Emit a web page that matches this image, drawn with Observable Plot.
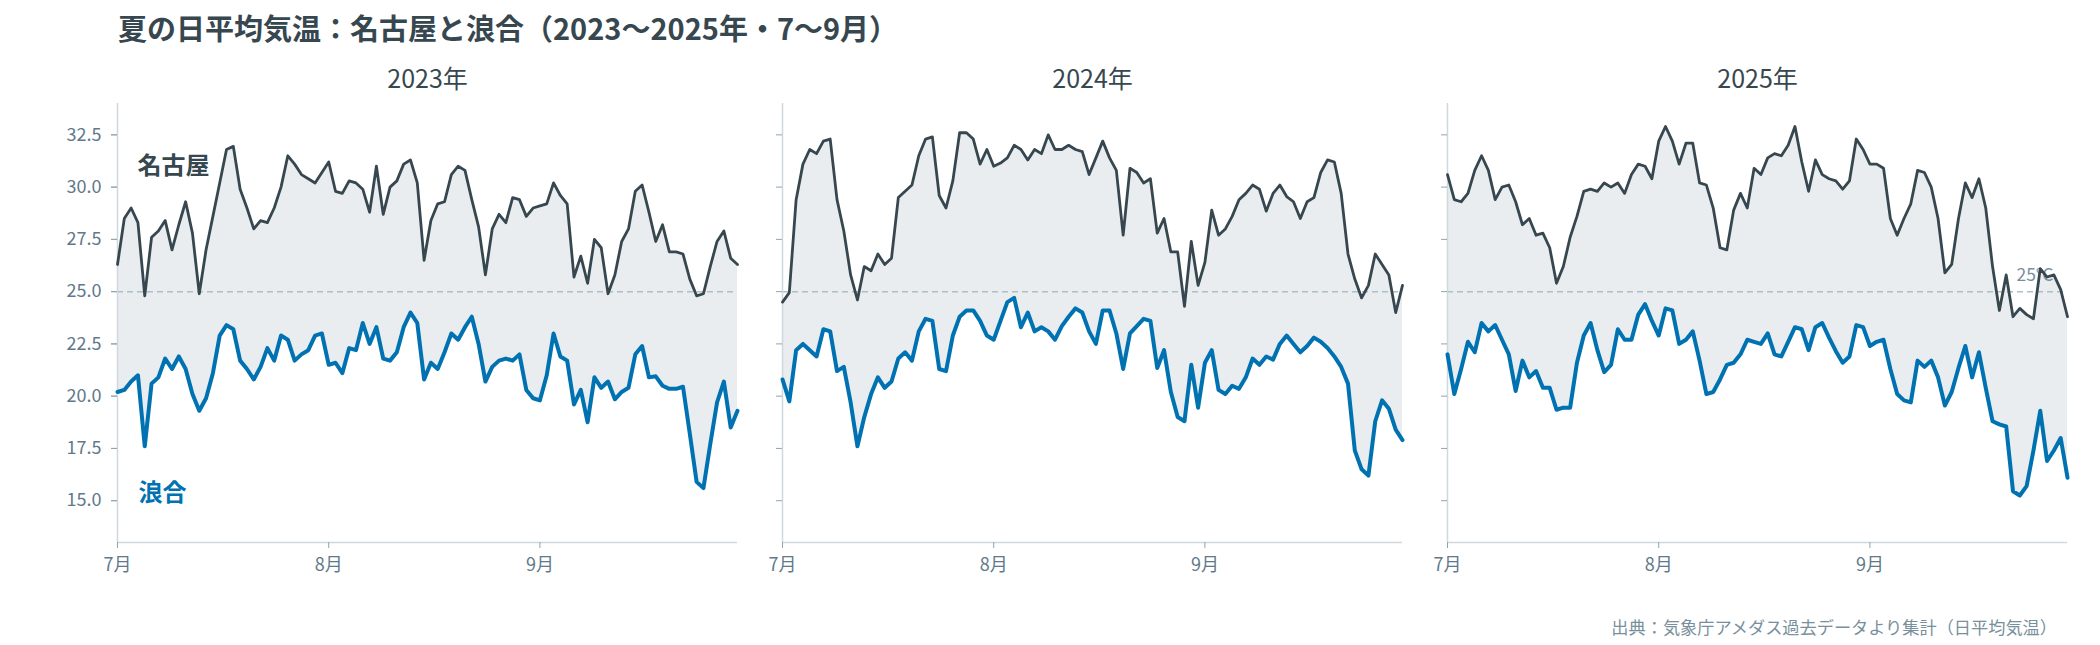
<!DOCTYPE html>
<html>
<head>
<meta charset="utf-8">
<script src="https://cdn.jsdelivr.net/npm/d3@7"></script>
<script src="https://cdn.jsdelivr.net/npm/@observablehq/plot@0.6"></script>
<style>
  body { margin: 0; background: #fff; width: 2100px; height: 645px; position: relative; overflow: hidden; font-family: "Noto Sans CJK JP", "Noto Sans", sans-serif; }
  #title { position: absolute; left: 118px; top: 7px; font-size: 29px; line-height: 40px; font-weight: 700; color: #37474f; white-space: nowrap; }
  #chart { position: absolute; left: 0; top: 50px; }
  #caption { position: absolute; right: 43px; top: 615px; font-size: 17.2px; line-height: 24px; color: #78909c; white-space: nowrap; }
</style>
</head>
<body>
<div id="title">夏の日平均気温：名古屋と浪合（2023〜2025年・7〜9月）</div>
<div id="chart"></div>
<div id="caption">出典：気象庁アメダス過去データより集計（日平均気温）</div>
<script>
const years = [2023, 2024, 2025];
const seriesNames = ["名古屋", "浪合"];
const yTicks = [15, 17.5, 20, 22.5, 25, 27.5, 30, 32.5];
const monthTicks = [7, 8, 9];
const thresholdLabel = "25°C";

const nagoya2023 = [
  26.3, 28.5, 29.0, 28.3, 24.8, 27.6, 27.9, 28.4, 27.0, 28.2,
  29.3, 27.8, 24.9, 27.0, 28.6, 30.2, 31.8, 31.95, 29.9, 29.0,
  28.0, 28.4, 28.3, 29.0, 30.0, 31.5, 31.1, 30.6, 30.4, 30.2,
  30.7, 31.2, 29.8, 29.7, 30.3, 30.2, 29.9, 28.8, 31.0, 28.7,
  30.0, 30.3, 31.1, 31.3, 30.2, 26.5, 28.4, 29.2, 29.3, 30.6,
  31.0, 30.8, 29.4, 28.1, 25.8, 28.0, 28.7, 28.3, 29.5, 29.4,
  28.6, 29.0, 29.1, 29.2, 30.2, 29.6, 29.2, 25.7, 26.7, 25.4,
  27.5, 27.1, 24.9, 25.8, 27.4, 28.0, 29.8, 30.1, 28.8, 27.4,
  28.2, 26.9, 26.9, 26.8, 25.6, 24.8, 24.9, 26.2, 27.4, 27.9,
  26.6, 26.3
];
const namiai2023 = [
  20.2, 20.3, 20.7, 21.0, 17.6, 20.6, 20.9, 21.8, 21.3, 21.9,
  21.3, 20.1, 19.3, 19.9, 21.1, 22.9, 23.4, 23.2, 21.7, 21.3,
  20.8, 21.4, 22.3, 21.7, 22.9, 22.7, 21.7, 22.0, 22.2, 22.9,
  23.0, 21.5, 21.6, 21.1, 22.3, 22.2, 23.5, 22.5, 23.3, 21.8,
  21.7, 22.1, 23.3, 24.0, 23.5, 20.8, 21.6, 21.3, 22.1, 23.0,
  22.7, 23.3, 23.8, 22.5, 20.7, 21.4, 21.7, 21.8, 21.7, 22.0,
  20.3, 19.9, 19.8, 21.0, 23.0, 21.9, 21.7, 19.6, 20.3, 18.75,
  20.9, 20.4, 20.7, 19.85, 20.2, 20.4, 22.0, 22.4, 20.9, 20.95,
  20.5, 20.35, 20.35, 20.45, 18.2, 15.9, 15.6, 17.7, 19.7, 20.7,
  18.5, 19.3
];
const nagoya2024 = [
  24.5, 24.95, 29.4, 31.1, 31.8, 31.6, 32.2, 32.3, 29.4, 27.9,
  25.8, 24.6, 26.2, 26.0, 26.8, 26.3, 26.6, 29.5, 29.8, 30.1,
  31.5, 32.3, 32.4, 29.6, 29.0, 30.3, 32.6, 32.6, 32.3, 31.1,
  31.8, 31.0, 31.15, 31.4, 32.0, 31.8, 31.3, 31.8, 31.6, 32.5,
  31.8, 31.8, 32.0, 31.8, 31.7, 30.6, 31.4, 32.2, 31.4, 30.8,
  27.7, 30.9, 30.7, 30.2, 30.4, 27.8, 28.5, 26.9, 26.9, 24.3,
  27.4, 25.3, 26.4, 28.9, 27.7, 28.0, 28.6, 29.4, 29.7, 30.1,
  29.9, 28.85, 29.7, 30.1, 29.55, 29.3, 28.5, 29.3, 29.5, 30.7,
  31.3, 31.2, 29.7, 26.8, 25.6, 24.7, 25.3, 26.8, 26.3, 25.8,
  24.0, 25.3
];
const namiai2024 = [
  20.8, 19.75, 22.2, 22.5, 22.2, 21.9, 23.2, 23.1, 21.2, 21.4,
  19.7, 17.6, 19.0, 20.1, 20.9, 20.4, 20.7, 21.8, 22.1, 21.7,
  23.1, 23.7, 23.6, 21.3, 21.2, 22.9, 23.8, 24.1, 24.1, 23.6,
  22.9, 22.7, 23.6, 24.5, 24.7, 23.3, 24.0, 23.1, 23.3, 23.1,
  22.7, 23.35, 23.8, 24.2, 24.0, 23.1, 22.5, 24.1, 24.1, 23.0,
  21.3, 23.0, 23.35, 23.7, 23.6, 21.35, 22.2, 20.2, 19.0, 18.8,
  21.5, 19.45, 21.6, 22.2, 20.3, 20.1, 20.5, 20.35, 20.9, 21.8,
  21.5, 21.9, 21.75, 22.5, 22.9, 22.5, 22.1, 22.4, 22.8, 22.6,
  22.3, 21.9, 21.4, 20.6, 17.4, 16.5, 16.2, 18.8, 19.8, 19.4,
  18.4, 17.9
];
const nagoya2025 = [
  30.6, 29.4, 29.3, 29.7, 30.8, 31.5, 30.8, 29.4, 30.0, 30.1,
  29.3, 28.2, 28.5, 27.7, 27.8, 27.1, 25.4, 26.2, 27.6, 28.6,
  29.8, 29.9, 29.8, 30.2, 30.0, 30.2, 29.7, 30.6, 31.1, 31.0,
  30.4, 32.2, 32.9, 32.2, 31.1, 32.1, 32.1, 30.2, 30.1, 29.0,
  27.1, 27.0, 28.9, 29.7, 29.0, 30.9, 30.6, 31.4, 31.6, 31.5,
  32.0, 32.9, 31.2, 29.8, 31.3, 30.6, 30.4, 30.3, 29.9, 30.3,
  32.3, 31.8, 31.1, 31.1, 30.9, 28.5, 27.7, 28.5, 29.2, 30.8,
  30.7, 30.0, 28.5, 25.9, 26.3, 28.5, 30.2, 29.5, 30.4, 29.0,
  26.2, 24.1, 25.8, 23.8, 24.2, 23.9, 23.7, 26.1, 25.7, 25.8,
  25.1, 23.8
];
const namiai2025 = [
  22.0, 20.1, 21.3, 22.6, 22.1, 23.5, 23.1, 23.4, 22.7, 22.0,
  20.25, 21.7, 20.9, 21.2, 20.4, 20.4, 19.35, 19.45, 19.45, 21.6,
  22.9, 23.5, 22.2, 21.15, 21.5, 23.2, 22.7, 22.7, 23.9, 24.4,
  23.6, 22.9, 24.2, 24.1, 22.5, 22.7, 23.1, 21.7, 20.1, 20.2,
  20.8, 21.5, 21.6, 22.0, 22.7, 22.6, 22.5, 23.0, 22.0, 21.9,
  22.6, 23.3, 23.2, 22.2, 23.3, 23.5, 22.8, 22.15, 21.6, 21.9,
  23.4, 23.3, 22.4, 22.6, 22.7, 21.3, 20.1, 19.8, 19.7, 21.7,
  21.4, 21.7, 20.9, 19.55, 20.2, 21.35, 22.4, 20.9, 22.1, 20.4,
  18.8, 18.65, 18.55, 15.45, 15.25, 15.7, 17.4, 19.3, 16.9, 17.4,
  18.0, 16.1
];

const seriesByYear = {
  2023: [nagoya2023, namiai2023],
  2024: [nagoya2024, namiai2024],
  2025: [nagoya2025, namiai2025]
};

// common calendar (year-agnostic) for Jul 1 – Sep 30
const dates = d3.range(nagoya2023.length).map(i => new Date(Date.UTC(2000, 6, 1 + i)));
const startDate = dates[0];
const endDate = dates[dates.length - 1];

const rows = years.flatMap(year => dates.map((date, i) => ({
  year, date,
  nagoya: seriesByYear[year][0][i],
  namiai: seriesByYear[year][1][i]
})));

const darkColor = "#37474f";
const blueColor = "#0072b2";
const tickStroke = "#90a4ae";
const tickText = "#62798a";

const chart = Plot.plot({
  width: 2100,
  height: 532,
  marginLeft: 116,
  marginRight: 31,
  marginTop: 53,
  marginBottom: 40,
  style: { fontFamily: '"Noto Sans CJK JP", "Noto Sans", sans-serif', background: "transparent", overflow: "visible" },
  fx: { domain: years, paddingInner: 0.067, paddingOuter: 0, label: null },
  x: { type: "utc", domain: [startDate, endDate], label: null },
  y: { domain: [13, 34], label: null },
  marks: [
    Plot.areaY(rows, { fx: "year", x: "date", y1: "namiai", y2: "nagoya", fill: "#e9edf0" }),
    Plot.ruleY([25], { stroke: "#b0bec5", strokeWidth: 1.5, strokeDasharray: "6,4" }),
    Plot.text([2025], { fx: d => d, x: () => endDate, y: () => 25, text: () => thresholdLabel,
      textAnchor: "end", dx: -14, dy: -16, fontSize: 17.5, fill: "#78909c" }),
    Plot.ruleX([startDate], { stroke: "#cfd8dc", strokeWidth: 1.5 }),
    Plot.ruleY([13], { stroke: "#cfd8dc", strokeWidth: 1.5 }),
    Plot.lineY(rows, { fx: "year", x: "date", y: "nagoya", stroke: darkColor, strokeWidth: 2.8 }),
    Plot.lineY(rows, { fx: "year", x: "date", y: "namiai", stroke: blueColor, strokeWidth: 4 }),
    Plot.text([seriesNames[0]], { fx: () => 2023, x: () => startDate, y: () => 31.0, text: d => d,
      textAnchor: "start", dx: 20, fontSize: 24, fontWeight: 700, fill: darkColor }),
    Plot.text([seriesNames[1]], { fx: () => 2023, x: () => startDate, y: () => 15.33, text: d => d,
      textAnchor: "start", dx: 21, fontSize: 24, fontWeight: 700, fill: blueColor }),
    Plot.axisY({ ticks: yTicks, tickFormat: d => d.toFixed(1), tickSize: 6, tickPadding: 10,
      fontSize: 18, stroke: tickStroke, fill: tickText, label: null }),
    Plot.axisY({ ticks: yTicks, tickSize: 6, stroke: tickStroke, fill: "none", label: null, facetAnchor: null }),
    Plot.axisX({ ticks: monthTicks.map(m => new Date(Date.UTC(2000, m - 1, 1))),
      tickFormat: d => `${d.getUTCMonth() + 1}月`, tickSize: 6, tickPadding: 10,
      fontSize: 18, stroke: tickStroke, fill: tickText, label: null }),
    Plot.axisFx({ anchor: "top", tickSize: 0, tickPadding: 16, fontSize: 25, fill: darkColor,
      tickFormat: d => `${d}年`, label: null })
  ]
});
document.getElementById("chart").appendChild(chart);
</script>
</body>
</html>
